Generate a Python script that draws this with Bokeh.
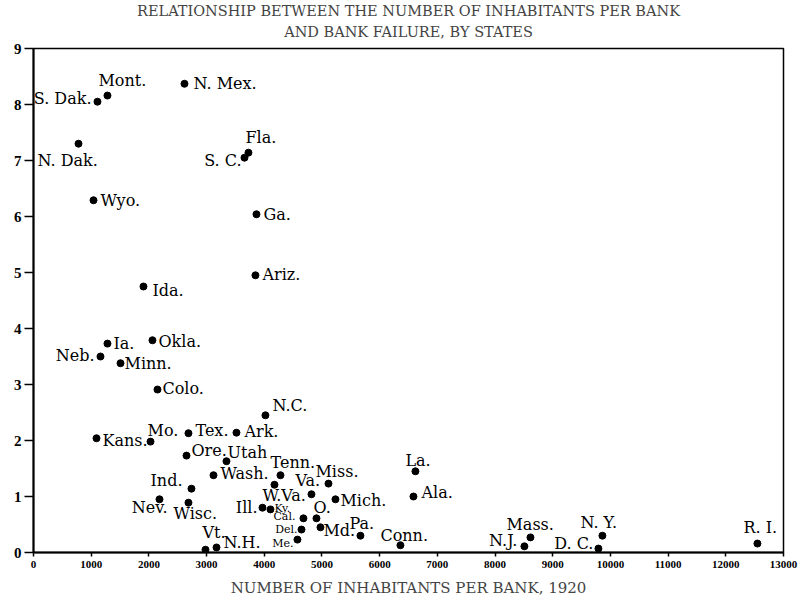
from bokeh.plotting import figure
from bokeh.models import ColumnDataSource, Title, FixedTicker, Range1d
from bokeh.core.properties import value
from bokeh.embed import file_html
from bokeh.resources import INLINE

# ---- data ----
states = ["S. Dak.", "Mont.", "N. Mex.", "N. Dak.", "Wyo.", "Fla.", "S. C.", "Ga.", "Ariz.", "Ida.",
          "Ia.", "Okla.", "Neb.", "Minn.", "Colo.", "N.C.", "Kans.", "Mo.", "Tex.", "Ark.",
          "Ore.", "Utah", "Wash.", "Tenn.", "Ind.", "Nev.", "Wisc.", "W.Va.", "Va.", "Miss.",
          "Mich.", "Ill.", "Ky.", "Cal.", "Del.", "Me.", "O.", "Md.", "Pa.", "Conn.",
          "Vt.", "N.H.", "La.", "Ala.", "N.J.", "Mass.", "D. C.", "N. Y.", "R. I."]
inhabitants = [1109, 1282, 2617, 780, 1040, 3726, 3657, 3865, 3847, 1906,
               1282, 2062, 1161, 1508, 2149, 4020, 1092, 2028, 2686, 3518,
               2652, 3345, 3120, 4281, 2738, 2184, 2686, 4177, 4818, 5113,
               5234, 3969, 4107, 4679, 4645, 4575, 4905, 4974, 5667, 6360,
               2981, 3172, 6620, 6586, 8509, 8614, 9792, 9861, 12548]
failures = [8.05, 8.16, 8.37, 7.30, 6.29, 7.14, 7.05, 6.04, 4.95, 4.75,
            3.73, 3.79, 3.50, 3.38, 2.91, 2.45, 2.04, 1.98, 2.13, 2.14,
            1.73, 1.63, 1.38, 1.38, 1.14, 0.95, 0.89, 1.21, 1.04, 1.23,
            0.95, 0.80, 0.77, 0.61, 0.41, 0.23, 0.61, 0.45, 0.30, 0.13,
            0.05, 0.09, 1.45, 1.00, 0.11, 0.27, 0.07, 0.30, 0.16]
x_ticks = list(range(0, 13001, 1000))
y_ticks = list(range(0, 10))

# ---- label placement (screen-pixel offsets, styling) ----
lab_dx = [-6, -9, 9, -41, 7, -3, -3, 7, 7, 9,
          6, 6, -6, 4, 5, 7, 6, -3, 7, 8,
          5, 1, 7, -10, -9, 8, -15, -12, -16, -13,
          5, -5, 4, -8, -4, -4, -3, 3, -11, -20,
          -3, 7, -10, 8, -7, -24, -5, -22, -14]
lab_dy = [-3, -15, 0, 17, 0, -15, 3, 0, -1, 4,
          0, 1, -1, 0, -1, -10, 2, -11, -3, -1,
          -5, -9, -2, -13, -8, 8, 11, 11, -14, -12,
          1, 0, -1, -2, 0, 4, -11, 3, -12, -10,
          -17, -5, -11, -4, -6, -13, -5, -13, -16]
lab_align = ["right", "left", "left", "left", "left", "left", "right", "left", "left", "left",
             "left", "left", "right", "left", "left", "left", "left", "left", "left", "left",
             "left", "left", "left", "left", "right", "right", "left", "left", "left", "left",
             "left", "right", "left", "right", "right", "right", "left", "left", "left", "left",
             "left", "left", "left", "left", "right", "left", "right", "left", "left"]
small = {"Ky.", "Cal.", "Del.", "Me."}
lab_size = ["11px" if s in small else "16px" for s in states]

src = ColumnDataSource(dict(x=inhabitants, y=failures, name=states,
                            dx=lab_dx, dy=lab_dy, align=lab_align, size=lab_size))

SERIF = "DejaVu Serif"

p = figure(width=800, height=599, output_backend="svg", toolbar_location=None,
           x_range=Range1d(0, 13000), y_range=Range1d(0, 9),
           min_border_left=33, min_border_right=17, min_border_top=48, min_border_bottom=10)
p.background_fill_color = "white"
p.border_fill_color = "white"
p.outline_line_color = "black"
p.outline_line_width = 1.5
p.xgrid.visible = False
p.ygrid.visible = False

p.add_layout(Title(text="AND BANK FAILURE, BY STATES", align="center",
                   text_font=SERIF, text_font_size="14.5px", text_font_style="normal",
                   standoff=17, offset=-8), "above")
p.add_layout(Title(text="RELATIONSHIP BETWEEN THE NUMBER OF INHABITANTS PER BANK", align="center",
                   text_font=SERIF, text_font_size="14.5px", text_font_style="normal",
                   standoff=-10, offset=-8), "above")

for ax in (p.xaxis[0], p.yaxis[0]):
    ax.axis_line_width = 2
    ax.axis_line_color = "black"
    ax.major_tick_line_color = "black"
    ax.major_tick_line_width = 1.5
    ax.minor_tick_line_color = None
    ax.major_tick_in = 0
    ax.major_label_text_font = "Liberation Serif"
    ax.major_label_text_font_style = "bold"
    ax.major_label_text_color = "black"

p.xaxis.major_tick_out = 4
p.yaxis.major_tick_out = 9
p.xaxis.ticker = FixedTicker(ticks=x_ticks)
p.yaxis.ticker = FixedTicker(ticks=y_ticks)
p.xaxis.major_label_text_font_size = "11px"
p.yaxis.major_label_text_font_size = "15px"
p.xaxis.major_label_standoff = 4
p.yaxis.major_label_standoff = 3
p.xaxis.axis_label = "NUMBER OF INHABITANTS PER BANK, 1920"
p.xaxis.axis_label_text_font = SERIF
p.xaxis.axis_label_text_font_size = "15px"
p.xaxis.axis_label_text_font_style = "normal"
p.xaxis.axis_label_standoff = 8

p.scatter("x", "y", source=src, size=7, color="black")
p.text("x", "y", text="name", source=src, x_offset="dx", y_offset="dy",
       text_align="align", text_baseline="middle", text_font_size="size",
       text_font=value(SERIF), text_color="black")

open("out.html", "w").write(file_html(p, INLINE))
